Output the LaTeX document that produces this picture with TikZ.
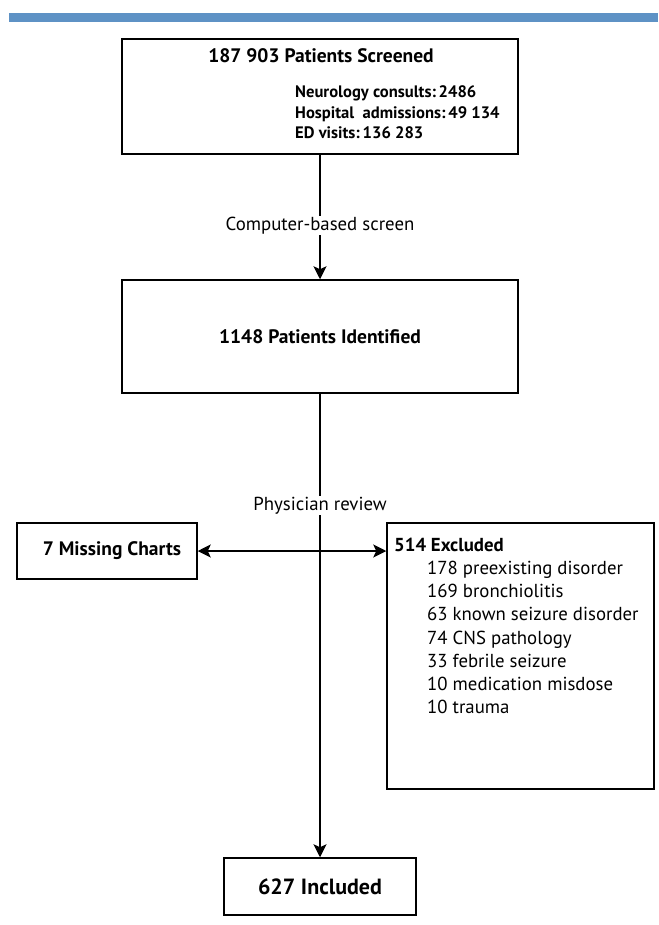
\documentclass[tikz,border=0pt]{standalone}
\usepackage{fontspec}
\setmainfont{PT Sans}
\usetikzlibrary{arrows.meta,positioning}
\definecolor{barblue}{RGB}{94,146,197}
\begin{document}
\begin{tikzpicture}[x=1pt, y=-1pt,
  box/.style={draw, line width=1.5pt, inner sep=0pt},
  lbl/.style={fill=white, inner sep=1pt, font=\fontsize{18.8}{22}\selectfont},
  big/.style={font=\fontsize{19.5}{22}\selectfont\bfseries},
  arr/.style={line width=1.3pt, -{Stealth[length=13pt,width=13pt,inset=3pt]}}]
  \useasboundingbox (0,0) rectangle (658,925);
  % top bar
  \fill[barblue] (9,13.5) rectangle (658,22.5);
  % boxes
  \node[box, minimum width=396pt, minimum height=115pt] (screened) at (320,96.5) {};
  \node[box, minimum width=396pt, minimum height=113pt, big] (identified) at (320,336.5) {1148 Patients Identified};
  \node[box, minimum width=180pt, minimum height=56pt, big] (missing) at (107,551) {\hspace{10pt}7 Missing Charts};
  \node[box, minimum width=267pt, minimum height=266pt] (excluded) at (520.5,656) {};
  \node[box, minimum width=192pt, minimum height=57pt, big, font=\fontsize{22}{24}\selectfont\bfseries] (included) at (320,886.5) {627 Included};
  % screened text
  \node[big, anchor=base] (scrtitle) at (321,62.5) {187 903 Patients Screened};
  \node[anchor=base west, align=left, inner sep=0pt,
    font=\fontsize{16.6}{20.5}\selectfont\bfseries] (scrlist) at (295,139)
    {Neurology consults:\,2486\\ Hospital\ \ admissions:\,49 134\\ ED visits:\,136 283};
  % excluded text
  \node[anchor=base west, align=left, inner sep=0pt,
    font=\fontsize{18.8}{23.1}\selectfont] (exclist) at (394,713.3)
    {\textbf{514 Excluded}\\
     \hspace*{33pt}178 preexisting disorder\\
     \hspace*{33pt}169 bronchiolitis\\
     \hspace*{33pt}63 known seizure disorder\\
     \hspace*{33pt}74 CNS pathology\\
     \hspace*{33pt}33 febrile seizure\\
     \hspace*{33pt}10 medication misdose\\
     \hspace*{33pt}10 trauma};
  % connectors
  \draw[arr] (screened) -- (identified);
  \node[lbl, anchor=base] (compscreen) at (320,230) {Computer-based screen};
  \draw[arr] (identified) -- (included);
  \draw[arr, {Stealth[length=13pt,width=13pt,inset=3pt]}-{Stealth[length=13pt,width=13pt,inset=3pt]}]
    (missing.east) -- (missing.east -| excluded.west);
  \node[lbl, anchor=base] (review) at (320,510) {Physician review};
\end{tikzpicture}
\end{document}
